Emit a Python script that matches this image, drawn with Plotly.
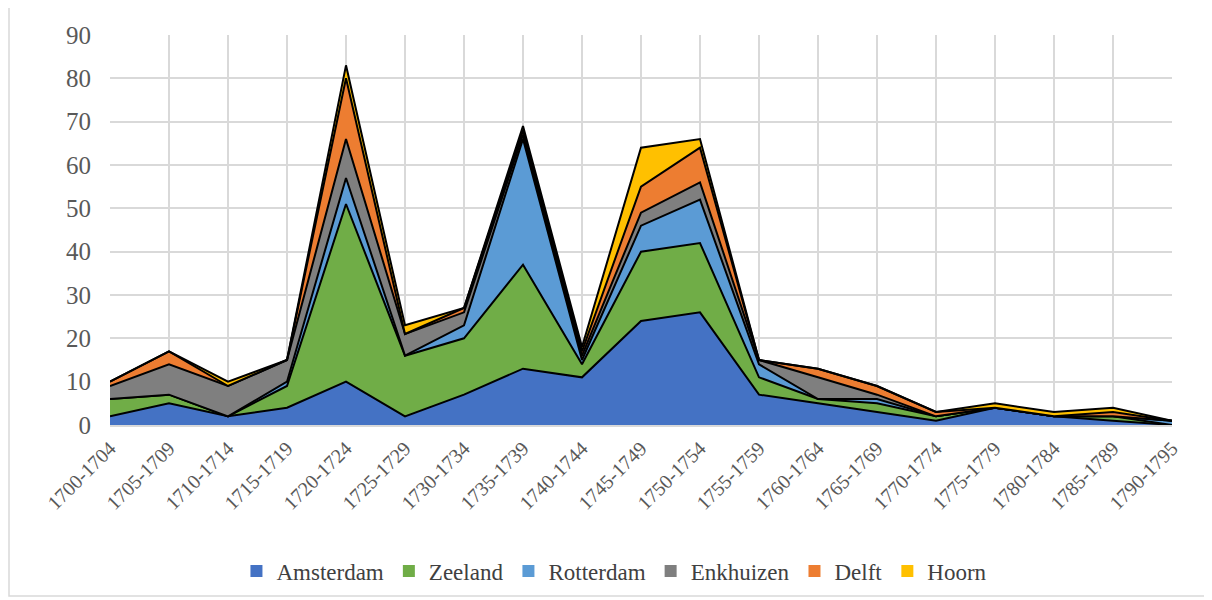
import plotly.graph_objects as go

periodes = ["1700-1704", "1705-1709", "1710-1714", "1715-1719", "1720-1724",
            "1725-1729", "1730-1734", "1735-1739", "1740-1744", "1745-1749",
            "1750-1754", "1755-1759", "1760-1764", "1765-1769", "1770-1774",
            "1775-1779", "1780-1784", "1785-1789", "1790-1795"]

amsterdam  = [2, 5, 2, 4, 10, 2, 7, 13, 11, 24, 26, 7, 5, 3, 1, 4, 2, 1, 0]
zeeland    = [4, 2, 0, 5, 41, 14, 13, 24, 3, 16, 16, 4, 1, 2, 1, 0, 0, 1, 0]
rotterdam  = [0, 0, 0, 1, 6, 0, 3, 29, 1, 6, 10, 3, 0, 1, 0, 0, 0, 0, 1]
enkhuizen  = [3, 7, 7, 5, 9, 5, 3, 1, 1, 3, 4, 1, 5, 1, 0, 0, 0, 0, 0]
delft      = [1, 3, 0, 0, 14, 0, 1, 1, 1, 6, 8, 0, 2, 2, 1, 0, 0, 1, 0]
hoorn      = [0, 0, 1, 0, 3, 2, 0, 1, 1, 9, 2, 0, 0, 0, 0, 1, 1, 1, 0]

series = [
    ("Amsterdam", amsterdam, "#4472C4"),
    ("Zeeland", zeeland, "#70AD47"),
    ("Rotterdam", rotterdam, "#5B9BD5"),
    ("Enkhuizen", enkhuizen, "#7F7F7F"),
    ("Delft", delft, "#ED7D31"),
    ("Hoorn", hoorn, "#FFC000"),
]

fig = go.Figure()
for naam, waarden, kleur in series:
    fig.add_trace(go.Scatter(
        x=periodes, y=waarden, name=naam, mode="lines",
        stackgroup="een", fillcolor=kleur,
        line=dict(color="black", width=2),
        showlegend=False,
    ))

# legenda met vierkantjes zoals in Excel
for naam, waarden, kleur in series:
    fig.add_trace(go.Bar(
        x=[None], y=[None], name=naam,
        marker=dict(color=kleur, line=dict(width=0)),
    ))

# de pagina heeft 8px marge rond de grafiek
font_serif = "Liberation Serif, Times New Roman, serif"
fig.update_layout(
    width=1204, height=592,
    paper_bgcolor="white", plot_bgcolor="white",
    margin=dict(l=102, r=40, t=27, b=175),
    font=dict(family=font_serif, size=23, color="#595959"),
    showlegend=True,
    legend=dict(orientation="h", x=0.475, xanchor="center",
                yref="container", y=0.049, yanchor="middle",
                font=dict(size=23, color="#404040"), traceorder="normal",
                itemwidth=30),
    xaxis=dict(type="category", range=[0, len(periodes) - 1], tickangle=-45,
               automargin=False,
               showgrid=True, gridcolor="#D9D9D9", gridwidth=1.5,
               showline=True, linecolor="#D9D9D9", linewidth=1.5,
               ticks="", ticklabelstandoff=2,
               tickfont=dict(size=20, color="#595959")),
    yaxis=dict(range=[0, 90], dtick=10, showgrid=True, gridcolor="#D9D9D9",
               automargin=False,
               gridwidth=1.5, zeroline=False, ticks="", ticklabelstandoff=18,
               tickfont=dict(size=25, color="#595959")),
    shapes=[dict(type="rect", xref="paper", yref="paper",
                 x0=-101 / 1062, x1=(1110) / 1062,
                 y0=-171 / 390, y1=(425 + 5) / 390,
                 line=dict(color="#D9D9D9", width=1.5), layer="below")],
)

fig.write_html("out.html")
